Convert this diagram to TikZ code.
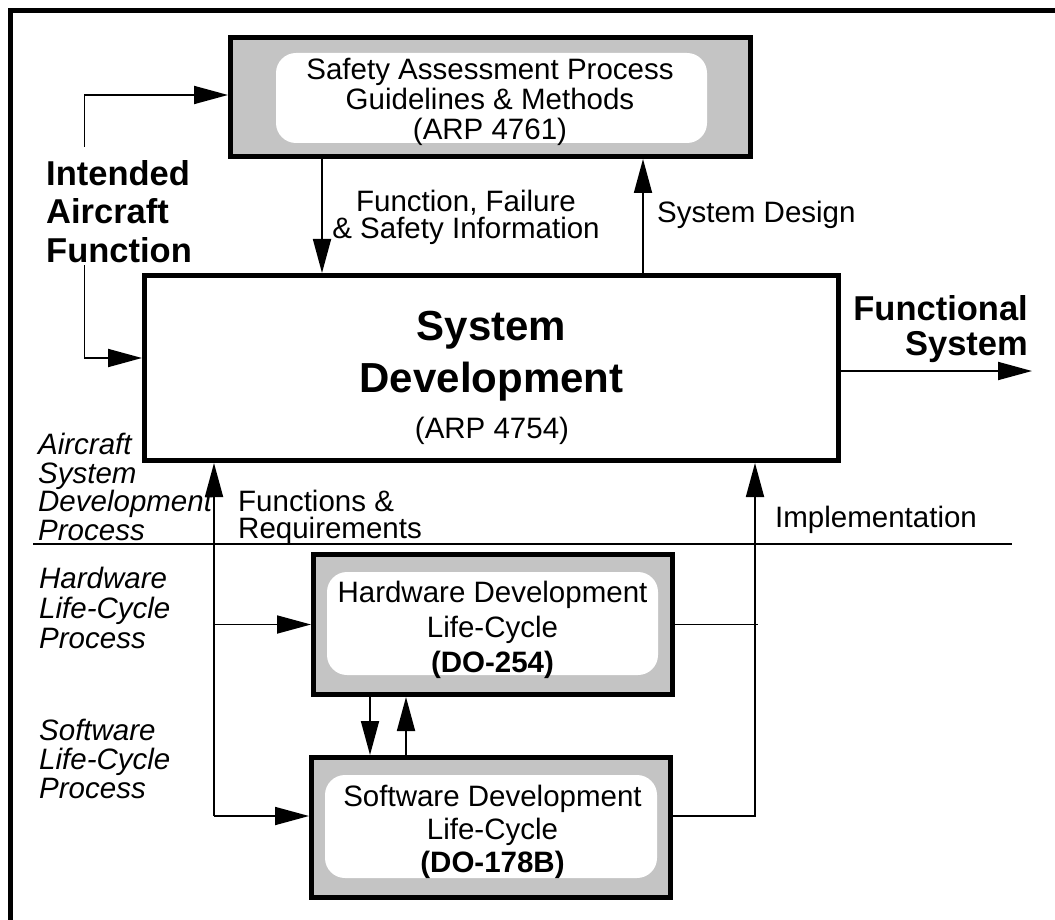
\documentclass[tikz,border=0pt]{standalone}
\usepackage{fontspec}
\setmainfont{Liberation Sans}
\usetikzlibrary{arrows.meta}
\definecolor{hatchgray}{RGB}{196,196,196}
\begin{document}
\begin{tikzpicture}[x=1pt,y=-1pt,
  conn/.style={line width=1.8pt},
  arr/.style={conn,-{Triangle[length=34pt,width=18pt]}},
  outerbox/.style={draw,line width=5pt,fill=hatchgray,inner sep=0pt},
  plainbox/.style={draw,line width=5pt,fill=white,inner sep=0pt},
  innerbox/.style={fill=white,rounded corners=20pt,inner sep=0pt},
  txt/.style={inner sep=0pt,anchor=base,font=\fontsize{29.5}{30}\selectfont},
  boldtxt/.style={inner sep=0pt,font=\fontsize{34.5}{38.5}\selectfont\bfseries},
  itl/.style={inner sep=0pt,anchor=base west,align=left,font=\fontsize{29.5}{29}\selectfont\itshape}]
\useasboundingbox (0,0) rectangle (1055,920);

% outer frame (left and top edges)
\draw[line width=5pt] (10.8,930) -- (10.8,10.8) -- (1065,10.8);

% safety assessment box (multi-line texts are placed by their last baseline)
\node[outerbox,minimum width=520pt,minimum height=119pt] (sap) at (490.5,97) {};
\node[innerbox,minimum width=431pt,minimum height=90pt] (sapin) at (491.5,98) {};
\node[txt,align=center] (saptext) at (490,140)
  {Safety Assessment Process\\Guidelines \& Methods\\(ARP 4761)};

% system development box
\node[plainbox,minimum width=694pt,minimum height=185pt] (sd) at (491.5,368) {};
\node[inner sep=0pt,anchor=base,align=center,font=\fontsize{42}{52}\selectfont\bfseries]
  (sdtitle) at (491.5,392) {System\\Development};
\node[txt] (sdref) at (492,438) {(ARP 4754)};

% hardware box
\node[outerbox,minimum width=359pt,minimum height=140pt] (hw) at (493,624.5) {};
\node[innerbox,minimum width=331pt,minimum height=103pt] (hwin) at (492.5,623.5) {};
\node[txt,align=center,font=\fontsize{29.5}{35}\selectfont] (hwtext) at (492.5,672)
  {Hardware Development\\Life-Cycle\\\textbf{(DO-254)}};

% software box
\node[outerbox,minimum width=359pt,minimum height=140pt] (sw) at (491,827.5) {};
\node[innerbox,minimum width=332pt,minimum height=103pt] (swin) at (491,826.5) {};
\node[txt,align=center,font=\fontsize{29.5}{33}\selectfont] (swtext) at (492.5,872)
  {Software Development\\Life-Cycle\\\textbf{(DO-178B)}};

% labels
\node[txt,align=center,font=\fontsize{29.5}{27}\selectfont] (fail) at (466,239)
  {Function, Failure\\\& Safety Information};
\node[txt,anchor=base west] (sdes) at (657,223) {System Design};
\node[boldtxt,anchor=base west,align=left] (iaf) at (46,262) {Intended\\Aircraft\\Function};
\node[boldtxt,anchor=base east,align=right,font=\fontsize{34.5}{35}\selectfont\bfseries]
  (fsys) at (1028,355) {Functional\\System};
\node[itl,font=\fontsize{29.5}{28.5}\selectfont\itshape] (asdp) at (38,540)
  {Aircraft\\System\\Development\\Process};
\node[itl,font=\fontsize{29.5}{30}\selectfont\itshape] (hlcp) at (39,648)
  {Hardware\\Life-Cycle\\Process};
\node[itl] (slcp) at (39,798) {Software\\Life-Cycle\\Process};
\node[txt,anchor=base west,align=left,font=\fontsize{29.5}{27}\selectfont] (freq) at (238,538)
  {Functions \&\\Requirements};
\node[txt,anchor=base west] (impl) at (775,527) {Implementation};

% helper coordinates
\coordinate (iafTop) at (84.5,147);
\coordinate (iafBot) at (84.5,265);
\coordinate (xFSI) at (322,0);
\coordinate (xSD) at (643,0);
\coordinate (fsEnd) at (1032,371);
\coordinate (divL) at (33,544);
\coordinate (divR) at (1012,544);
\coordinate (feed) at (214,816);
\coordinate (ret) at (755,816);
\coordinate (hwEnd) at (757.5,0);
\coordinate (xDn) at (370,0);
\coordinate (xUp) at (406,0);

% connectors
\draw[arr] (iafTop) |- ([yshift=2pt]sap.west);
\draw[arr] (iafBot) |- ([yshift=10pt]sd.west);
\draw[arr] (sap.south -| xFSI) -- (sd.north -| xFSI);
\draw[arr] (sd.north -| xSD) -- (sap.south -| xSD);
\draw[arr] ([yshift=-3pt]sd.east) -- (fsEnd);
\draw[line width=1.5pt] (divL) -- (divR);
\draw[arr] (feed) -- (feed |- sd.south);
\draw[arr] (feed |- hw.west) -- (hw.west);
\draw[arr] (feed) -- (feed -| sw.west);
\draw[arr] (sw.east |- ret) -- (ret) -- (ret |- sd.south);
\draw[conn] (hw.east) -- (hw.east -| hwEnd);
\draw[arr] (hw.south -| xDn) -- (sw.north -| xDn);
\draw[arr] (sw.north -| xUp) -- (hw.south -| xUp);
\end{tikzpicture}
\end{document}
